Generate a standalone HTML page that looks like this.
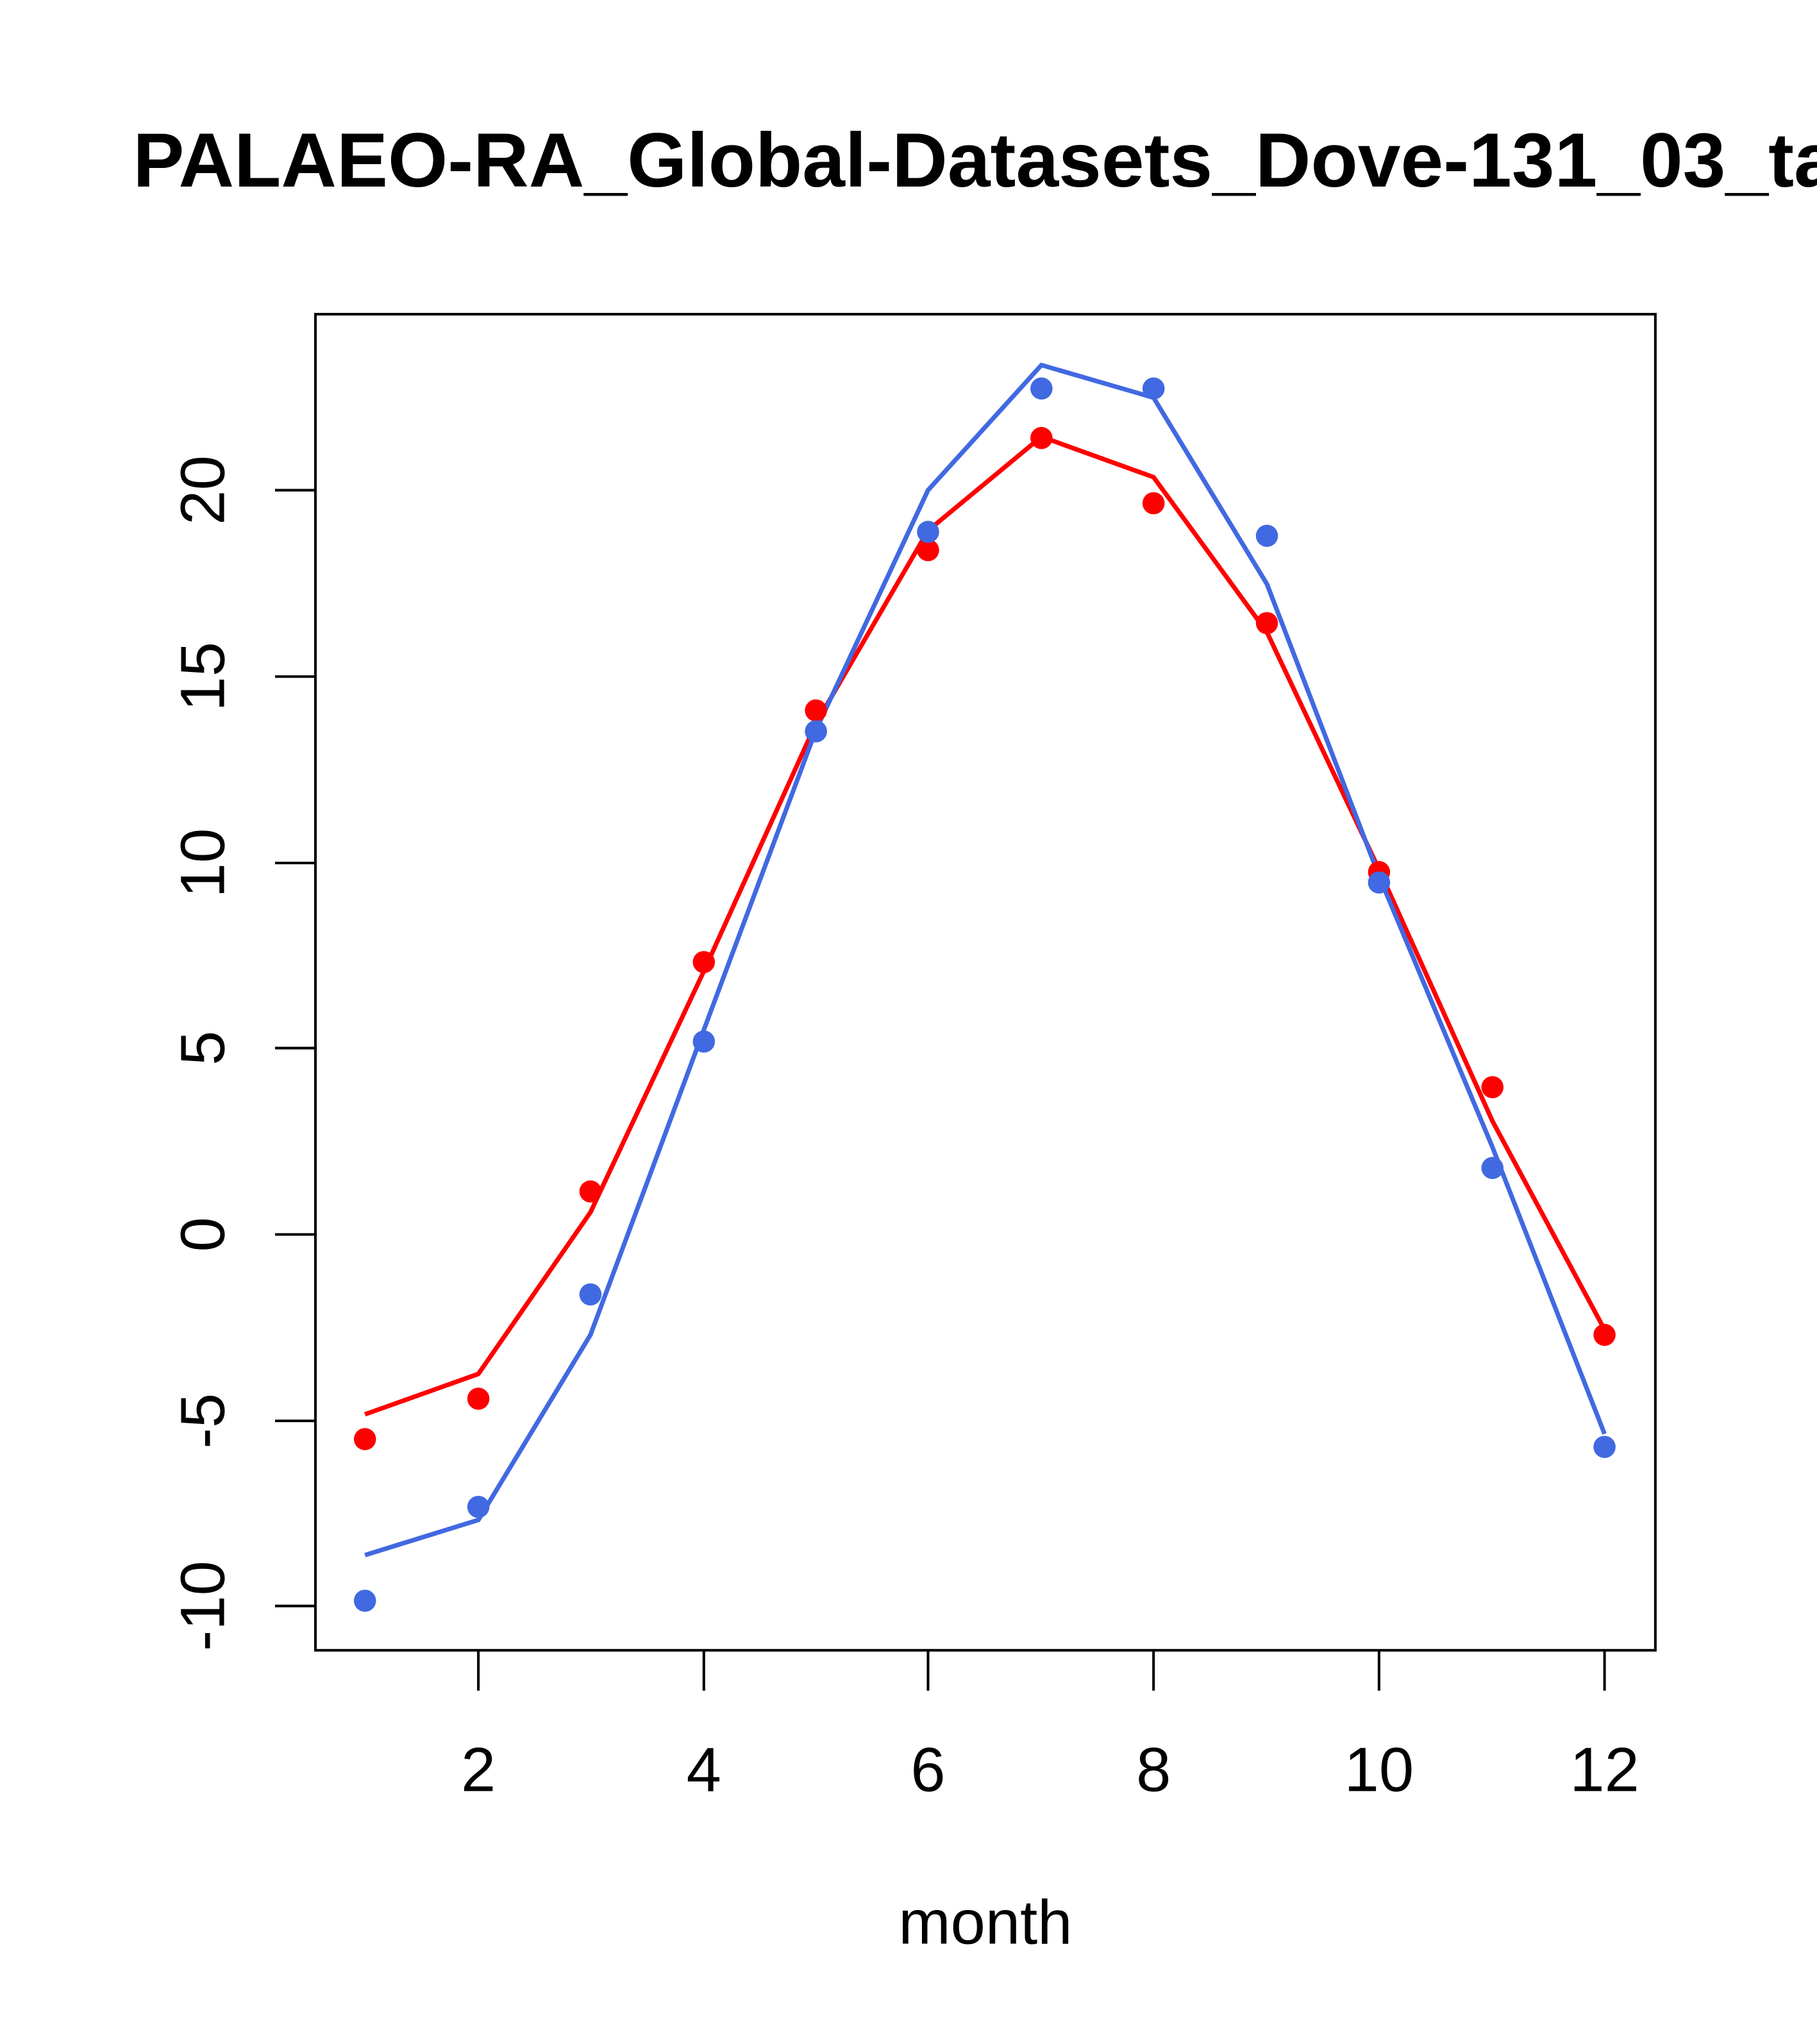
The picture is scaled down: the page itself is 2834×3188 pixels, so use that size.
<!DOCTYPE html>
<html><head><style>html,body{margin:0;padding:0;background:#fff;overflow:hidden}svg{display:block}</style></head>
<body>
<svg width="2834" height="3188" viewBox="0 0 1394 1568" xmlns="http://www.w3.org/2000/svg" font-family="Liberation Sans, sans-serif">
<rect width="1394" height="1568" fill="#fff"/>
<text x="102" y="143" font-size="59" font-weight="bold">PALAEO-RA_Global-Datasets_Dove-131_03_ta</text>
<rect x="242" y="241" width="1028" height="1025" fill="none" stroke="#000" stroke-width="2"/>
<g stroke="#000" stroke-width="2">
<line x1="367" y1="1266" x2="367" y2="1297"/><line x1="540" y1="1266" x2="540" y2="1297"/><line x1="712" y1="1266" x2="712" y2="1297"/><line x1="885" y1="1266" x2="885" y2="1297"/><line x1="1058" y1="1266" x2="1058" y2="1297"/><line x1="1231" y1="1266" x2="1231" y2="1297"/>
<line x1="242" y1="376" x2="211" y2="376"/><line x1="242" y1="519" x2="211" y2="519"/><line x1="242" y1="662" x2="211" y2="662"/><line x1="242" y1="804" x2="211" y2="804"/><line x1="242" y1="947" x2="211" y2="947"/><line x1="242" y1="1090" x2="211" y2="1090"/><line x1="242" y1="1232" x2="211" y2="1232"/>
</g>
<g font-size="48" text-anchor="middle">
<text x="367" y="1374">2</text><text x="540" y="1374">4</text><text x="712" y="1374">6</text><text x="885" y="1374">8</text><text x="1058" y="1374">10</text><text x="1231" y="1374">12</text>
<text x="756" y="1491">month</text>
<text transform="translate(172,376) rotate(-90)">20</text>
<text transform="translate(172,519) rotate(-90)">15</text>
<text transform="translate(172,662) rotate(-90)">10</text>
<text transform="translate(172,804) rotate(-90)">5</text>
<text transform="translate(172,947) rotate(-90)">0</text>
<text transform="translate(172,1090) rotate(-90)">-5</text>
<text transform="translate(172,1232) rotate(-90)">-10</text>
</g>
<polyline fill="none" stroke="#ff0000" stroke-width="3.5" points="280,1085 367,1054 453,930 540,745 626,555 712,407 799,335 885,366 972,485 1058,667 1145,860 1231,1020"/>
<polyline fill="none" stroke="#4169e1" stroke-width="3.5" points="280,1193 367,1166 453,1024 540,790 626,560 712,376 799,280 885,305 972,448 1058,672 1145,880 1231,1100"/>
<g fill="#ff0000">
<circle cx="280" cy="1104" r="8.5"/><circle cx="367" cy="1073" r="8.5"/><circle cx="453" cy="914" r="8.5"/><circle cx="540" cy="738" r="8.5"/><circle cx="626" cy="545" r="8.5"/><circle cx="712" cy="422" r="8.5"/><circle cx="799" cy="336" r="8.5"/><circle cx="885" cy="386" r="8.5"/><circle cx="972" cy="478" r="8.5"/><circle cx="1058" cy="669" r="8.5"/><circle cx="1145" cy="834" r="8.5"/><circle cx="1231" cy="1024" r="8.5"/>
</g>
<g fill="#4169e1">
<circle cx="280" cy="1228" r="8.5"/><circle cx="367" cy="1156" r="8.5"/><circle cx="453" cy="993" r="8.5"/><circle cx="540" cy="799" r="8.5"/><circle cx="626" cy="561" r="8.5"/><circle cx="712" cy="408" r="8.5"/><circle cx="799" cy="298" r="8.5"/><circle cx="885" cy="298" r="8.5"/><circle cx="972" cy="411" r="8.5"/><circle cx="1058" cy="677" r="8.5"/><circle cx="1145" cy="896" r="8.5"/><circle cx="1231" cy="1110" r="8.5"/>
</g>
</svg>
</body></html>
